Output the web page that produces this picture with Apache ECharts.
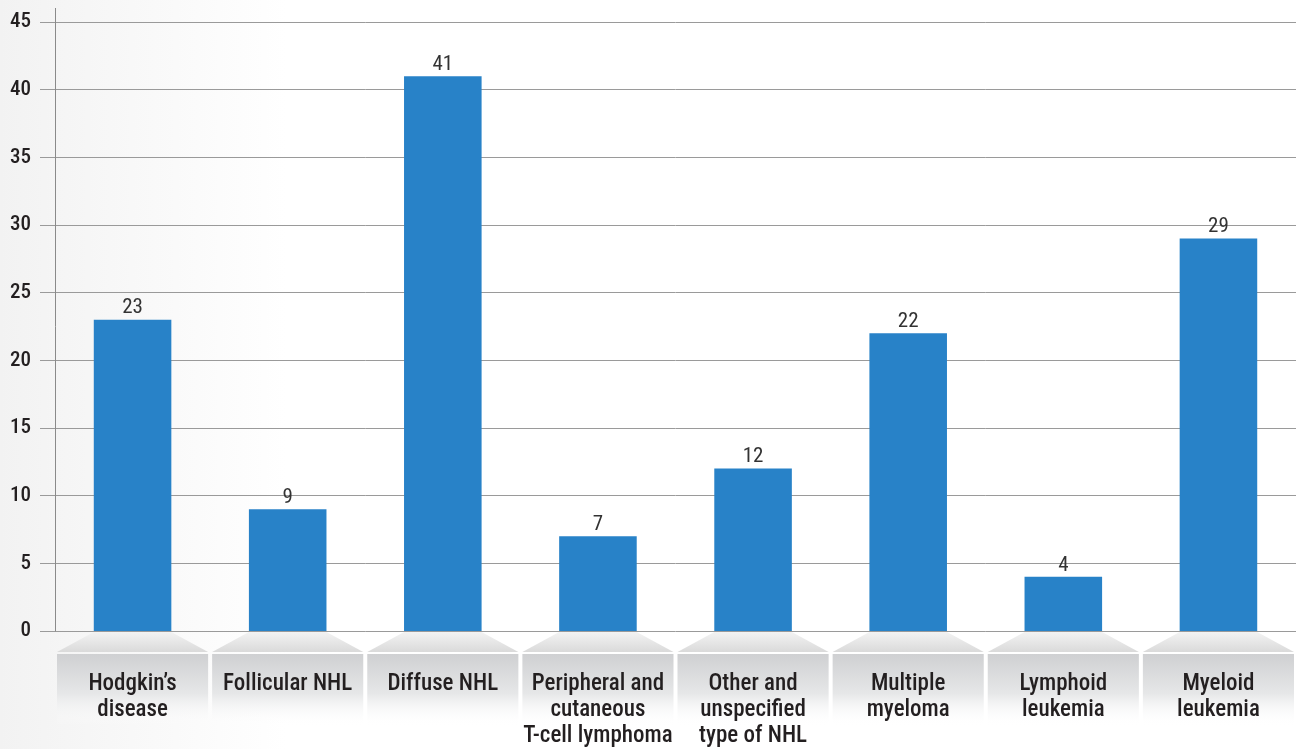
<!DOCTYPE html>
<html>
<head>
<meta charset="utf-8">
<script src="https://cdn.jsdelivr.net/npm/echarts@6/dist/echarts.min.js"></script>
<style>
  html, body { margin: 0; padding: 0; }
  #chart { width: 1299px; height: 749px; }
</style>
</head>
<body>
<div id="chart"></div>
<script>
const categories = [
  "Hodgkin\u2019s\ndisease",
  "Follicular NHL",
  "Diffuse NHL",
  "Peripheral and\ncutaneous\nT-cell lymphoma",
  "Other and\nunspecified\ntype of NHL",
  "Multiple\nmyeloma",
  "Lymphoid\nleukemia",
  "Myeloid\nleukemia"
]
const counts = [23, 9, 41, 7, 12, 22, 4, 29]
const yTicks = { min: 0, max: 45, interval: 5 }

const fontFamily = '"Liberation Sans Narrow", "Roboto Condensed", Roboto, sans-serif'
const barColor = '#2882c8'
const gridColor = '#9a9a9a'

const chart = echarts.init(document.getElementById('chart'))

// grey "floor" plates under each category
const floorItem = (params, api) => {
  const p = api.coord([api.value(0), 0])
  const band = api.size([1, 0])[0]
  const bw = band * 0.5
  const gap = 2
  return {
    type: 'group',
    children: [
      {
        type: 'polygon',
        shape: {
          points: [
            [p[0] - bw / 2, p[1] + 1],
            [p[0] + bw / 2, p[1] + 1],
            [p[0] + band / 2 - gap, p[1] + 21],
            [p[0] - band / 2 + gap, p[1] + 21]
          ]
        },
        style: {
          fill: new echarts.graphic.LinearGradient(0, 0, 0, 1, [
            { offset: 0, color: '#f3f3f3' },
            { offset: 1, color: '#dadada' }
          ])
        }
      },
      {
        type: 'rect',
        shape: { x: p[0] - band / 2 + gap, y: p[1] + 23, width: band - gap * 2, height: 72 },
        style: {
          fill: new echarts.graphic.LinearGradient(0, 0, 0, 1, [
            { offset: 0, color: '#cfd0d2' },
            { offset: 0.55, color: '#e6e7e8' },
            { offset: 1, color: 'rgba(255,255,255,0)' }
          ])
        }
      }
    ]
  }
}

const option = {
  backgroundColor: new echarts.graphic.LinearGradient(0, 0, 1, 0, [
    { offset: 0, color: '#f2f2f2' },
    { offset: 0.22, color: '#ffffff' },
    { offset: 1, color: '#ffffff' }
  ]),
  animation: false,
  grid: { left: 55, right: 3, top: 22, bottom: 117 },
  xAxis: {
    type: 'category',
    data: categories,
    z: 10,
    axisLine: { show: false },
    axisTick: { show: false },
    axisLabel: {
      interval: 0,
      margin: 40,
      verticalAlign: 'top',
      fontFamily: fontFamily,
      fontSize: 23,
      fontWeight: 500,
      lineHeight: 26,
      color: '#231f20'
    }
  },
  yAxis: {
    type: 'value',
    min: yTicks.min,
    max: yTicks.max,
    interval: yTicks.interval,
    axisLine: { show: true, lineStyle: { color: '#8a8a8a', width: 1 } },
    axisTick: { show: true, length: 15, lineStyle: { color: gridColor } },
    axisLabel: {
      margin: 24,
      fontFamily: fontFamily,
      fontSize: 21,
      fontWeight: 500,
      color: '#231f20'
    },
    splitLine: { show: true, lineStyle: { color: gridColor, width: 1 } }
  },
  graphic: [
    {
      type: 'line',
      shape: { x1: 55.5, y1: 8, x2: 55.5, y2: 22 },
      style: { stroke: '#8a8a8a', lineWidth: 1 }
    }
  ],
  series: [
    {
      type: 'custom',
      renderItem: floorItem,
      data: categories.map((c, i) => [i, 0]),
      clip: false,
      silent: true,
      z: 0
    },
    {
      type: 'bar',
      data: counts,
      barWidth: '50%',
      itemStyle: { color: barColor },
      z: 3,
      label: {
        show: true,
        position: 'top',
        distance: 1,
        fontFamily: fontFamily,
        fontSize: 21,
        color: '#333333'
      }
    }
  ]
}

chart.setOption(option)
window.addEventListener('resize', function () {
  chart.resize()
})
</script>
</body>
</html>
